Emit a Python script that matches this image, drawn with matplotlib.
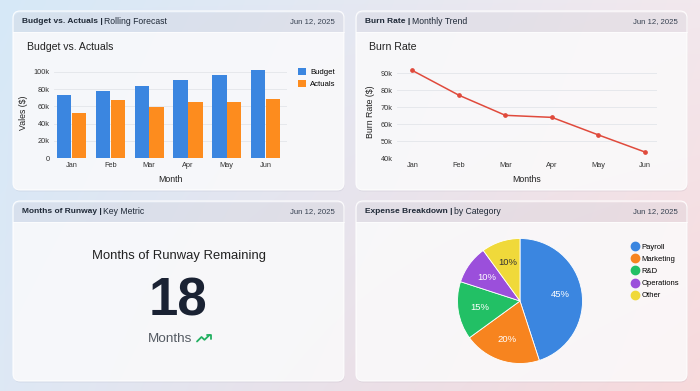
import numpy as np
import matplotlib
matplotlib.use("Agg")
import matplotlib.pyplot as plt
from matplotlib.patches import FancyBboxPatch, Rectangle
from matplotlib.ticker import FuncFormatter
from matplotlib.lines import Line2D

plt.rcParams['font.family'] = ['Liberation Sans', 'DejaVu Sans']

# ---------------- data ----------------
months = ["Jan", "Feb", "Mar", "Apr", "May", "Jun"]
budget = [73000, 78000, 84000, 90000, 96000, 102000]
actuals = [52500, 67500, 59000, 65000, 65500, 68000]
burn_rate = [91500, 77000, 65200, 64000, 53700, 43700]
expense_labels = ["Payroll", "Marketing", "R&D", "Operations", "Other"]
expense_share = [45, 20, 15, 10, 10]
runway_months = 18
report_date = "Jun 12, 2025"

C_BLUE = "#3b86e0"
C_ORANGE = "#fd8c1e"
C_RED = "#e04a3c"
PIE_COLORS = ["#3b86e0", "#f7841f", "#22c065", "#9b4fdb", "#f0d93a"]
TXT = "#1f2937"

W, H = 700, 391
fig = plt.figure(figsize=(W / 100, H / 100), dpi=100)

# background in pixel coords
bg = fig.add_axes([0, 0, 1, 1])
bg.set_xlim(0, W)
bg.set_ylim(H, 0)
bg.axis("off")
c_tl = np.array([0.84, 0.91, 0.97])
c_tr = np.array([0.95, 0.91, 0.93])
c_bl = np.array([0.87, 0.91, 0.96])
c_br = np.array([0.97, 0.85, 0.86])
u = np.linspace(0, 1, 200)[None, :, None]
v = np.linspace(0, 1, 120)[:, None, None]
grad = (1 - u) * (1 - v) * c_tl + u * (1 - v) * c_tr + (1 - u) * v * c_bl + u * v * c_br
bg.imshow(grad, extent=[0, W, H, 0], aspect="auto", zorder=0, interpolation="bicubic")


def px_rect(x0, y0, x1, y1):
    return [x0 / W, 1 - y1 / H, (x1 - x0) / W, (y1 - y0) / H]


def card(x0, y0, x1, y1, title_bold, title_rest, hdr_alpha=0.2):
    sh = FancyBboxPatch((x0 + 0.5, y0 + 1.5), x1 - x0, y1 - y0,
                        boxstyle="round,pad=0,rounding_size=7",
                        fc=(0.4, 0.4, 0.5, 0.10), ec="none", zorder=1)
    bg.add_patch(sh)
    p = FancyBboxPatch((x0, y0), x1 - x0, y1 - y0,
                       boxstyle="round,pad=0,rounding_size=7",
                       fc=(1, 1, 1, hdr_alpha), ec=(1, 1, 1, 0.9), lw=0.8, zorder=2)
    bg.add_patch(p)
    body = Rectangle((x0, y0 + 20.5), x1 - x0, y1 - y0 - 20.5,
                     fc=(1, 1, 1, 0.77), ec="none", zorder=2)
    bg.add_patch(body)
    body.set_clip_path(p)
    bg.plot([x0, x1], [y0 + 20.5, y0 + 20.5], color=(1, 1, 1, 0.8), lw=0.6, zorder=3)
    t = bg.text(x0 + 9, y0 + 10.3, title_bold, fontsize=6.0, fontweight="bold",
                color=TXT, va="center", ha="left", zorder=4)
    fig.canvas.draw()
    bb = t.get_window_extent()
    xe = bb.x1
    bg.text(xe + 1.5, y0 + 10.3, title_rest, fontsize=6.2, color=TXT,
            va="center", ha="left", zorder=4)
    bg.text(x1 - 9, y0 + 10.3, report_date, fontsize=5.6, color="#374151",
            va="center", ha="right", zorder=4)


card(13, 11, 344, 190, "Budget vs. Actuals |", "Rolling Forecast")
card(356, 11, 687, 190, "Burn Rate |", "Monthly Trend")
card(13, 201, 344, 381, "Months of Runway |", "Key Metric")
card(356, 201, 687, 381, "Expense Breakdown |", "by Category")

kfmt = FuncFormatter(lambda val, pos: "0" if val == 0 else f"{int(round(val / 1000))}k")

# ---------------- bar chart ----------------
ax1 = fig.add_axes(px_rect(54, 67.5, 287, 158))
ax1.set_facecolor("none")
x = np.arange(len(months))
bw = 0.37
ax1.bar(x - 0.19, budget, bw, color=C_BLUE, label="Budget", zorder=3)
ax1.bar(x + 0.19, actuals, bw, color=C_ORANGE, label="Actuals", zorder=3)
ax1.set_xlim(-0.45, 5.55)
ax1.set_ylim(0, 105000)
ax1.set_yticks(np.arange(0, 100001, 20000))
ax1.yaxis.set_major_formatter(kfmt)
ax1.set_xticks(x)
ax1.set_xticklabels(months)
ax1.grid(axis="y", color="#e3e6ea", lw=0.6, zorder=0)
for s in ax1.spines.values():
    s.set_visible(False)
ax1.tick_params(length=0, labelsize=5.3, colors="#333", pad=3)
ax1.set_xlabel("Month", fontsize=6.3, color="#222", labelpad=4)
ax1.set_ylabel("Vales ($)", fontsize=6.3, color="#222", labelpad=4)
ax1.legend(loc="upper left", bbox_to_anchor=(294, 64), bbox_transform=bg.transData,
           frameon=False, fontsize=5.6, handlelength=1.0, handleheight=1.0,
           handletextpad=0.6, labelspacing=0.55, borderpad=0)
bg.text(27, 47, "Budget vs. Actuals", fontsize=7.6, color="#222", va="center", ha="left", zorder=4)

# ---------------- line chart ----------------
ax2 = fig.add_axes(px_rect(397, 64.5, 657, 158.3))
ax2.set_facecolor("none")
ax2.plot(x, burn_rate, color=C_RED, lw=1.1, marker="o", ms=2.4, zorder=3)
ax2.set_xlim(-0.33, 5.26)
ax2.set_ylim(40000, 95000)
ax2.set_yticks(np.arange(40000, 90001, 10000))
ax2.yaxis.set_major_formatter(kfmt)
ax2.set_xticks(x)
ax2.set_xticklabels(months)
ax2.grid(axis="y", color="#e3e6ea", lw=0.6, zorder=0)
for s in ax2.spines.values():
    s.set_visible(False)
ax2.tick_params(length=0, labelsize=5.3, colors="#333", pad=3)
ax2.set_xlabel("Months", fontsize=6.3, color="#222", labelpad=4)
ax2.set_ylabel("Burn Rate ($)", fontsize=6.3, color="#222", labelpad=4)
bg.text(369, 47, "Burn Rate", fontsize=7.6, color="#222", va="center", ha="left", zorder=4)

# ---------------- KPI card ----------------
bg.text(179, 256.5, "Months of Runway Remaining", fontsize=9.4, color="#222",
        ha="center", va="center", zorder=4)
bg.text(178, 301, str(runway_months), fontsize=38, fontweight="bold", color="#1a2233",
        ha="center", va="center", zorder=4)
bg.text(170, 339, "Months", fontsize=9.7, color="#555b63", ha="center", va="center", zorder=4)
bg.plot([197, 201.5, 204.5, 209.5], [341.5, 337, 339.8, 335], color="#22b061",
        lw=1.3, solid_capstyle="round", solid_joinstyle="round", zorder=4)
bg.plot([206.5, 210.8, 210.8], [334.6, 334.6, 338.6], color="#22b061", lw=1.3,
        solid_capstyle="round", solid_joinstyle="round", zorder=4)

# ---------------- pie ----------------
r = 62.5
ax3 = fig.add_axes(px_rect(520 - r, 301 - r, 520 + r, 301 + r))
ax3.set_facecolor("none")
wedges, _, autot = ax3.pie(expense_share, colors=PIE_COLORS, startangle=90, counterclock=False,
                           autopct=lambda p: f"{p:.0f}%", pctdistance=0.65,
                           textprops=dict(color="white", fontsize=6.8),
                           wedgeprops=dict(linewidth=0.6, edgecolor="white"), radius=1)
autot[-1].set_color("#333")
ax3.set_xlim(-1, 1)
ax3.set_ylim(-1, 1)
ax3.set_aspect("equal")
handles = [Line2D([], [], marker="o", ls="none", ms=6, color=c) for c in PIE_COLORS]
ax3.legend(handles, expense_labels, loc="upper left", bbox_to_anchor=(628, 239.8),
           bbox_transform=bg.transData, frameon=False, fontsize=5.5, handlelength=0.8,
           handletextpad=0.5, labelspacing=0.62, borderpad=0)

fig.savefig("out.png", dpi=100)
